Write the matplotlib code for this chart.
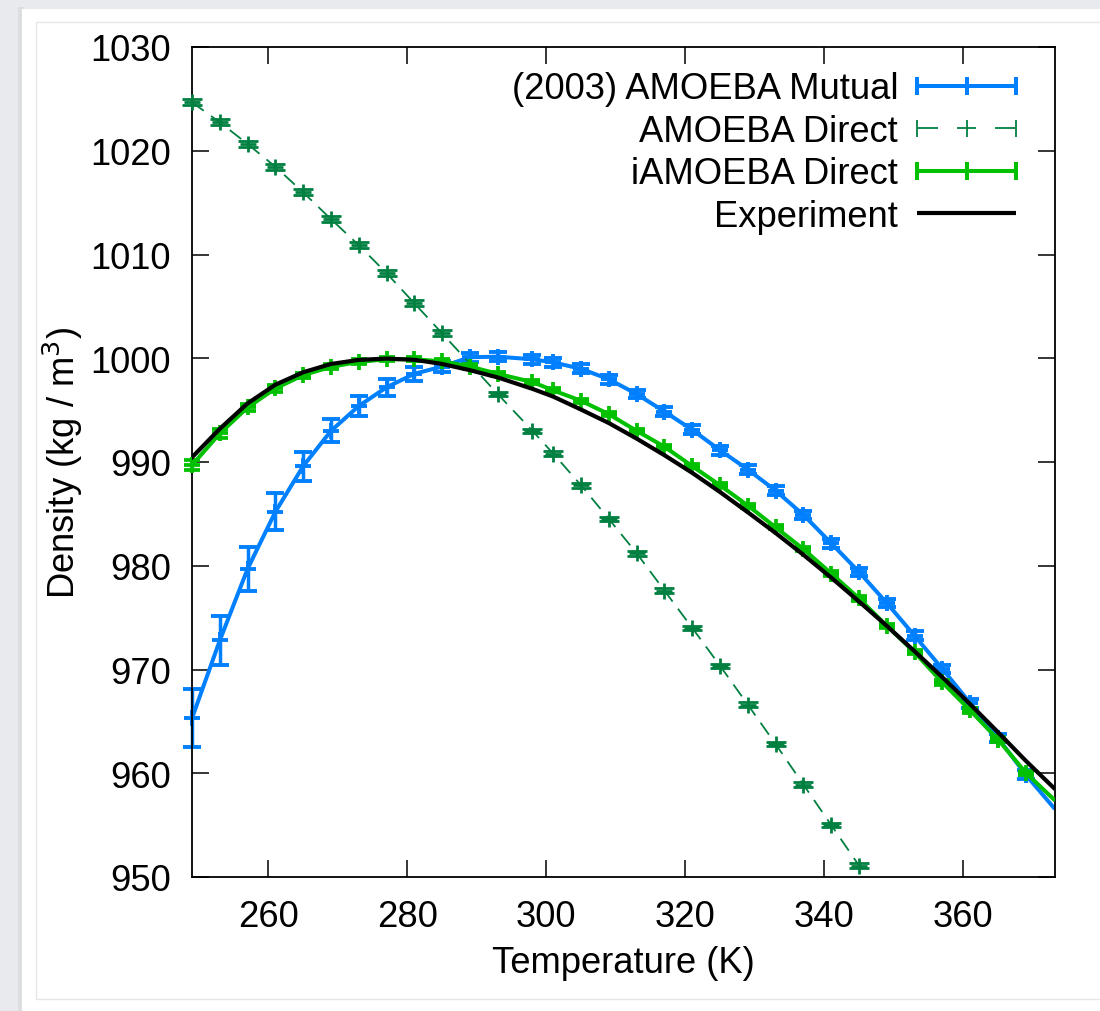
import numpy as np
import matplotlib
matplotlib.use("Agg")
import matplotlib.pyplot as plt
from matplotlib.patches import Rectangle
from matplotlib.lines import Line2D
from matplotlib.legend_handler import HandlerBase

# ---------------- data ----------------
temps = [249, 253, 257, 261, 265, 269, 273, 277, 281, 285, 289, 293, 298, 301,
         305, 309, 313, 317, 321, 325, 329, 333, 337, 341, 345, 349, 353, 357,
         361, 365, 369, 373]

mutual = [965.3, 972.8, 979.7, 985.2, 989.6, 993.0, 995.4, 997.2, 998.5, 999.2,
          1000.1, 1000.15, 999.9, 999.6, 998.98, 997.97, 996.55, 994.86, 993.1,
          991.13, 989.27, 987.24, 984.9, 982.17, 979.4, 976.4, 973.25, 970.05,
          966.75, 963.4, 959.85, 956.7]
mutual_err = [2.8, 2.4, 2.1, 1.8, 1.4, 1.1, 0.95, 0.8, 0.65, 0.5, 0.45, 0.45,
              0.42, 0.42, 0.42, 0.42, 0.42, 0.42, 0.42, 0.42, 0.42, 0.42, 0.42,
              0.42, 0.42, 0.42, 0.42, 0.42, 0.42, 0.42, 0.42, 0.42]

direct_temps = [249, 253, 257, 261, 265, 269, 273, 277, 281, 285, 293, 298, 301,
                305, 309, 313, 317, 321, 325, 329, 333, 337, 341, 345]
direct = [1024.67, 1022.74, 1020.65, 1018.46, 1015.99, 1013.41, 1010.9, 1008.2,
          1005.3, 1002.4, 996.55, 993.0, 990.8, 987.75, 984.5, 981.2, 977.6,
          974.0, 970.35, 966.6, 962.8, 958.9, 955.0, 951.1]
direct_err = [0.3, 0.3, 0.3, 0.3, 0.28, 0.28, 0.28, 0.28, 0.28, 0.28, 0.22,
              0.22, 0.22, 0.22, 0.22, 0.22, 0.22, 0.22, 0.22, 0.22, 0.22, 0.22,
              0.22, 0.22]

iamoeba = [989.7, 992.75, 995.26, 997.09, 998.37, 999.17, 999.65, 999.9, 999.9,
           999.7, 999.2, 998.5, 997.7, 996.9, 995.9, 994.6, 993.0, 991.47, 989.6,
           987.75, 985.8, 983.7, 981.6, 979.25, 976.85, 974.2, 971.65, 968.75,
           966.05, 963.25, 960.05, 957.5]
iamoeba_err = [0.45, 0.4, 0.35, 0.3, 0.25, 0.25, 0.25, 0.2, 0.2, 0.2, 0.2, 0.2,
               0.2, 0.2, 0.2, 0.2, 0.2, 0.2, 0.2, 0.2, 0.2, 0.2, 0.2, 0.2, 0.2,
               0.2, 0.2, 0.2, 0.2, 0.2, 0.2, 0.2]

experiment = [990.45, 993.2, 995.65, 997.45, 998.65, 999.45, 999.84, 999.97,
              999.85, 999.45, 998.85, 998.15, 997.05, 996.3, 995.05, 993.75,
              992.25, 990.65, 988.95, 987.1, 985.15, 983.15, 981.05, 978.85,
              976.55, 974.2, 971.75, 969.25, 966.65, 963.95, 961.2, 958.6]

labels = ["(2003) AMOEBA Mutual", "AMOEBA Direct", "iAMOEBA Direct", "Experiment"]
x_ticks = [260, 280, 300, 320, 340, 360]
y_ticks = [950, 960, 970, 980, 990, 1000, 1010, 1020, 1030]

BLUE = "#0080ff"
DKGREEN = "#008040"
GREEN = "#00c000"
BLACK = "#000000"

plt.rcParams["font.family"] = ["Liberation Sans", "DejaVu Sans"]
FS = 26.2

W, H = 1100, 1012
fig = plt.figure(figsize=(W / 100, H / 100), dpi=100)
fig.patch.set_facecolor("#e8eaed")


def px_rect(x0, y0, x1, y1, **kw):
    r = Rectangle((x0 / W, 1 - y1 / H), (x1 - x0) / W, (y1 - y0) / H,
                  transform=fig.transFigure, **kw)
    fig.add_artist(r)
    return r


px_rect(18, 8, 24, H, facecolor="#dcdee2", edgecolor="none", zorder=-11)
px_rect(22, 10, W + 5, H + 5, facecolor="white", edgecolor="none", zorder=-10)
px_rect(36, 23, W + 5, 1000, facecolor="none", edgecolor="#e6e6e6", lw=1,
        zorder=-9)

ax = fig.add_axes([192 / W, 1 - 878 / H, (1055 - 192) / W, (878 - 48) / H])
ax.set_facecolor("white")

T = np.array(temps, dtype=float)
vis = T < 372


def no_clip(container):
    for art in container.get_children():
        art.set_clip_on(False)


# (2003) AMOEBA Mutual
ax.plot(T, mutual, color=BLUE, lw=2.9, zorder=2, solid_joinstyle="round")
eb = ax.errorbar(T[vis], np.array(mutual)[vis], yerr=np.array(mutual_err)[vis],
                 fmt="+", color=BLUE, ms=12, mew=2.8, elinewidth=2.5, capsize=6.5,
                 capthick=3.2, zorder=2)
no_clip(eb)

# AMOEBA Direct
ax.plot(direct_temps, direct, color=DKGREEN, lw=1.3, dashes=(8, 5), zorder=3)
eb = ax.errorbar(direct_temps, direct, yerr=direct_err, fmt="+", color=DKGREEN,
                 ms=12, mew=2.0, elinewidth=1.7, capsize=7.0, capthick=2.0,
                 zorder=3)
no_clip(eb)

# iAMOEBA Direct
ax.plot(T, iamoeba, color=GREEN, lw=2.9, zorder=4, solid_joinstyle="round")
eb = ax.errorbar(T[vis], np.array(iamoeba)[vis], yerr=np.array(iamoeba_err)[vis],
                 fmt="+", color=GREEN, ms=12, mew=2.7, elinewidth=2.4,
                 capsize=6.0, capthick=3.0, zorder=4)
no_clip(eb)

# Experiment
ax.plot(T, experiment, color=BLACK, lw=3.0, zorder=5, solid_joinstyle="round")

ax.set_xlim(249, 373.2)
ax.set_ylim(950, 1030)
ax.set_xticks(x_ticks)
ax.set_yticks(y_ticks)
ax.tick_params(axis="both", which="major", direction="in", length=12, width=1.1,
               labelsize=FS, top=True, right=True, color="black")
ax.tick_params(axis="x", pad=16)
ax.tick_params(axis="y", pad=15)
for s in ax.spines.values():
    s.set_linewidth(1.3)
    s.set_color("black")

ax.set_xlabel("Temperature (K)", fontsize=FS, labelpad=8)
ax.set_ylabel("Density (kg / m$^3$)", fontsize=FS, labelpad=4)


# ---------------- gnuplot-style key ----------------
class GnuKey(HandlerBase):
    def __init__(self, color, lw, dashed=False, caps=True, plus=True, caph=6.5):
        super().__init__()
        self.color = color
        self.lw = lw
        self.dashed = dashed
        self.caps = caps
        self.plus = plus
        self.caph = caph

    def create_artists(self, legend, orig_handle, xdescent, ydescent, width,
                       height, fontsize, trans):
        x0 = -xdescent
        x1 = width - xdescent
        y = height / 2 - ydescent
        xm = (x0 + x1) / 2
        arts = []
        kw = dict(color=self.color, lw=self.lw, transform=trans,
                  solid_capstyle="butt")
        if self.dashed:
            seg = 0.21 * width
            arts.append(Line2D([x0, x0 + seg], [y, y], **kw))
            arts.append(Line2D([x1 - seg, x1], [y, y], **kw))
            arts.append(Line2D([xm - 0.095 * width, xm + 0.095 * width], [y, y], **kw))
        else:
            arts.append(Line2D([x0, x1], [y, y], **kw))
        if self.caps:
            for xx in (x0, x1):
                arts.append(Line2D([xx, xx], [y - self.caph, y + self.caph], **kw))
        if self.plus:
            arts.append(Line2D([xm, xm], [y - self.caph, y + self.caph], **kw))
        return arts


h1 = Line2D([], [], color=BLUE)
h2 = Line2D([], [], color=DKGREEN)
h3 = Line2D([], [], color=GREEN)
h4 = Line2D([], [], color=BLACK)
leg = ax.legend([h1, h2, h3, h4], labels,
                handler_map={h1: GnuKey(BLUE, 2.9),
                             h2: GnuKey(DKGREEN, 1.3, dashed=True, caph=6),
                             h3: GnuKey(GREEN, 2.9),
                             h4: GnuKey(BLACK, 3.0, caps=False, plus=False)},
                loc="upper right", bbox_to_anchor=(0.9548, 0.9705),
                frameon=False, markerfirst=False, fontsize=FS, borderpad=0,
                borderaxespad=0, handlelength=2.72, handletextpad=0.52,
                labelspacing=0.205)
leg.set_zorder(10)

fig.savefig("out.png", dpi=100, facecolor=fig.get_facecolor())
